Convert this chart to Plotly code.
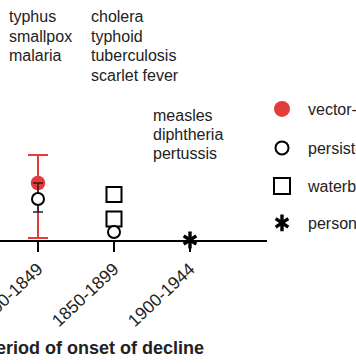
import plotly.graph_objects as go

# ---- data ----
categories = ["1800-1849", "1850-1899", "1900-1944"]

vector_x = ["1800-1849"]
vector_y = [1.14]
vector_err_plus = [0.56]
vector_err_minus = [1.10]

persistent_x = ["1800-1849", "1850-1899"]
persistent_y = [0.82, 0.16]
persistent_err_plus = [0.32, None]
persistent_err_minus = [0.26, None]

waterborne_x = ["1850-1899", "1850-1899"]
waterborne_y = [0.91, 0.42]

person_x = ["1900-1944"]
person_y = [0.0]

legend_labels = ["vector-borne", "persistent", "waterborne", "person-to-person"]

disease_groups = [
    ["typhus", "smallpox", "malaria"],
    ["cholera", "typhoid", "tuberculosis", "scarlet fever"],
    ["measles", "diphtheria", "pertussis"],
]

x_title = "Period of onset of decline"

# ---- style ----
W, H = 356, 364
PLOT_H = 240
PLOT_W = 267
X0 = 38      # pixel of first category
STEP = 76    # pixels per category
RED = "#e63b3b"
FONT = "Liberation Sans, Arial, Helvetica, sans-serif"
TXT = "#222222"

fig = go.Figure()

# vector-borne (red)
fig.add_trace(go.Scatter(
    x=vector_x, y=vector_y, mode="markers", showlegend=False,
    marker=dict(size=14.5, color=RED),
    error_y=dict(type="data", symmetric=False, array=vector_err_plus,
                 arrayminus=vector_err_minus, color=RED, thickness=2, width=10),
    cliponaxis=False,
))
# waterborne (squares)
fig.add_trace(go.Scatter(
    x=waterborne_x, y=waterborne_y, mode="markers", showlegend=False,
    marker=dict(symbol="square", size=15, color="white",
                line=dict(color="black", width=2)),
    cliponaxis=False,
))
# persistent (open circles)
fig.add_trace(go.Scatter(
    x=persistent_x, y=persistent_y, mode="markers", showlegend=False,
    marker=dict(symbol="circle", size=12, color="white",
                line=dict(color="black", width=2)),
    error_y=dict(type="data", symmetric=False, array=persistent_err_plus,
                 arrayminus=persistent_err_minus, color="#222222",
                 thickness=1.5, width=5),
    cliponaxis=False,
))
# person-to-person (6-arm asterisk built from two symbols)
for sym in ["y-up-open", "y-down-open"]:
    fig.add_trace(go.Scatter(
        x=person_x, y=person_y, mode="markers", showlegend=False,
        marker=dict(symbol=sym, size=10.5, color="black",
                    line=dict(color="black", width=3.4)),
        cliponaxis=False,
    ))

# ---- legend (one legend per entry to control spacing) ----
leg_specs = [
    dict(symbol="circle", size=17, color=RED, line=dict(width=0)),
    dict(symbol="circle", size=13, color="white", line=dict(color="black", width=2)),
    dict(symbol="square", size=16, color="white", line=dict(color="black", width=2)),
    dict(symbol="y-up-open", size=10.5, color="black", line=dict(color="black", width=3.4)),
    dict(symbol="y-down-open", size=10.5, color="black", line=dict(color="black", width=3.4)),
]
leg_names = legend_labels + [legend_labels[3]]
leg_ids = ["legend", "legend2", "legend3", "legend4", "legend5"]
leg_py = [109, 148, 186, 223, 223]
leg_txt = [TXT, TXT, TXT, TXT, "rgba(0,0,0,0)"]
for name, spec, lid in zip(leg_names, leg_specs, leg_ids):
    fig.add_trace(go.Scatter(
        x=[None], y=[None], mode="markers", name=name, marker=spec,
        legend=lid, showlegend=True,
    ))

legend_layout = {}
for lid, py, tc in zip(leg_ids, leg_py, leg_txt):
    legend_layout[lid] = dict(
        xref="container", yref="container",
        x=256 / W, y=1 - py / H, xanchor="left", yanchor="middle",
        bgcolor="rgba(0,0,0,0)", borderwidth=0, itemwidth=42,
        font=dict(family=FONT, size=16, color=tc),
    )

# ---- disease text annotations ----
annotations = []
group_left = [7, 89, 151]
group_top = [17, 17, 115]
LINE = 19.4
for grp, lx, ty in zip(disease_groups, group_left, group_top):
    for i, t in enumerate(grp):
        annotations.append(dict(
            text=t, x=lx / W, y=1 - (ty + i * LINE) / PLOT_H,
            xref="paper", yref="paper", xanchor="left", yanchor="middle",
            showarrow=False, font=dict(family=FONT, size=16, color=TXT),
        ))

annotations.append(dict(
    text="<b>" + x_title + "</b>", x=206 / W, y=1 - 348 / PLOT_H,
    xref="paper", yref="paper", xanchor="right", yanchor="middle",
    showarrow=False, font=dict(family=FONT, size=18, color=TXT),
))

fig.update_layout(
    width=W, height=H,
    margin=dict(l=0, r=0, t=0, b=H - PLOT_H, pad=0, autoexpand=False),
    paper_bgcolor="white", plot_bgcolor="white",
    xaxis=dict(
        type="category", categoryorder="array", categoryarray=categories,
        domain=[0, PLOT_W / W], range=[-X0 / STEP, (PLOT_W - X0) / STEP],
        automargin=False, layer="below traces",
        showline=True, linecolor="black", linewidth=2,
        ticks="outside", ticklen=10, tickwidth=2, tickcolor="black",
        tickangle=-43, showgrid=False, zeroline=False,
        tickfont=dict(family=FONT, size=17.5, color=TXT),
    ),
    yaxis=dict(visible=False, range=[0, 4.8], showgrid=False, zeroline=False,
               automargin=False, layer="below traces"),
    annotations=annotations,
    **legend_layout,
)

fig.write_html(
    "out.html",
    config={"displayModeBar": False},
    post_script="document.body.style.margin='0';document.body.style.overflow='hidden';",
)
